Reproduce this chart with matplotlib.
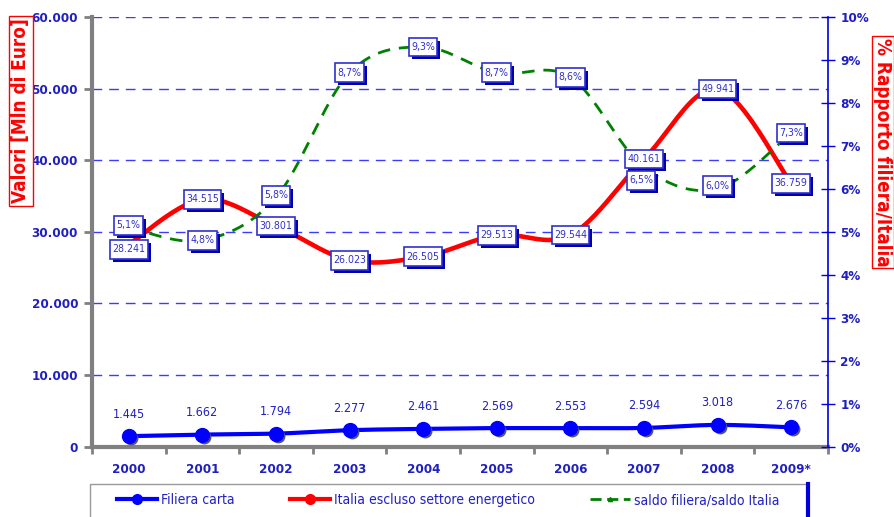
import os
import numpy as np
import matplotlib
matplotlib.use('Agg')
import matplotlib.pyplot as plt
from matplotlib import font_manager, transforms
from matplotlib.font_manager import FontProperties
from matplotlib.lines import Line2D
from matplotlib.patches import Rectangle
from matplotlib.path import Path

# ---------------- data ----------------
years = ['2000', '2001', '2002', '2003', '2004', '2005', '2006', '2007', '2008', '2009*']
filiera_carta = [1445, 1662, 1794, 2277, 2461, 2569, 2553, 2594, 3018, 2676]
italia_escl_energ = [28241, 34515, 30801, 26023, 26505, 29513, 29544, 40161, 49941, 36759]
saldo_rapporto = [5.1, 4.8, 5.8, 8.7, 9.3, 8.7, 8.6, 6.5, 6.0, 7.3]
left_ticks = [0, 10000, 20000, 30000, 40000, 50000, 60000]
right_ticks = [0, 1, 2, 3, 4, 5, 6, 7, 8, 9, 10]
series_names = ['Filiera carta', 'Italia escluso settore energetico', 'saldo filiera/saldo Italia']

# ---------------- fonts ----------------
files = [f.fname for f in font_manager.fontManager.ttflist]
files += font_manager.findSystemFonts()


def find(patterns):
    for p in patterns:
        for fn in files:
            if os.path.basename(fn).lower().startswith(p.lower()):
                return fn
    return None


reg_file = find(['LiberationSansNarrow-Regular', 'ArialNarrow.', 'arialn.', 'DejaVuSansCondensed.',
                 'RobotoCondensed-Regular', 'OpenSans_Condensed-Regular', 'OpenSansCondensed-Regular',
                 'NotoSans-Condensed.', 'NotoSansDisplay-Condensed.'])
bold_file = find(['LiberationSansNarrow-Bold.', 'ArialNarrow-Bold', 'arialnb.', 'DejaVuSansCondensed-Bold.',
                  'RobotoCondensed-Bold.', 'OpenSans_Condensed-Bold.', 'OpenSansCondensed-Bold.',
                  'NotoSans-CondensedBold.', 'NotoSansDisplay-CondensedBold.'])


def fp(size, bold=False):
    f = bold_file if bold else reg_file
    if f is not None:
        return FontProperties(fname=f, size=size)
    return FontProperties(family=['Liberation Sans', 'DejaVu Sans'], size=size * 0.85,
                          weight='bold' if bold else 'normal')


BLUE_TXT = '#2020c0'
GRAY = '#808080'


def it_num(v):
    return '0' if v == 0 else f'{v:,.0f}'.replace(',', '.')


def it_pct(v):
    return f'{v:.1f}'.replace('.', ',') + '%'


def smooth(xv, yv, n=24):
    xv = np.asarray(xv, float)
    yv = np.asarray(yv, float)
    P = np.column_stack([xv, yv])
    P = np.vstack([P[0], P, P[-1]])
    out = []
    t = np.linspace(0, 1, n, endpoint=False)[:, None]
    for i in range(1, len(P) - 2):
        p0, p1, p2, p3 = P[i - 1], P[i], P[i + 1], P[i + 2]
        seg = 0.5 * ((2 * p1) + (-p0 + p2) * t + (2 * p0 - 5 * p1 + 4 * p2 - p3) * t ** 2
                     + (-p0 + 3 * p1 - 3 * p2 + p3) * t ** 3)
        out.append(seg)
    out.append(P[-2][None, :])
    S = np.vstack(out)
    return S[:, 0], S[:, 1]


def label_box(x0, y0, width, height, mutation_size):
    px = 0.22 * mutation_size
    py = 0.42 * mutation_size
    x0, y0 = x0 - px, y0 - py
    x1, y1 = x0 + width + 2 * px, y0 + height + 2 * py
    return Path([(x0, y0), (x1, y0), (x1, y1), (x0, y1), (x0, y0)],
                [Path.MOVETO, Path.LINETO, Path.LINETO, Path.LINETO, Path.CLOSEPOLY])


fig = plt.figure(figsize=(8.95, 5.17), dpi=100)
ax = fig.add_axes([92 / 895, 1 - 446.5 / 517, 736 / 895, 429.5 / 517])
ax2 = ax.twinx()

x = np.arange(len(years))
ax.set_xlim(-0.5, len(years) - 0.5)
ax.set_ylim(0, 60000)
ax2.set_ylim(0, 10)

TICK_FP = fp(9.6, bold=True)

ax.set_yticks(left_ticks, labels=[it_num(v) for v in left_ticks], fontproperties=TICK_FP)
ax.yaxis.grid(True, color='#3b3bff', linestyle=(0, (7, 5)), linewidth=1)
ax.set_axisbelow(True)

for s in ['top', 'right']:
    ax.spines[s].set_visible(False)
ax.spines['left'].set_color(GRAY)
ax.spines['left'].set_linewidth(3)
ax.spines['bottom'].set_color(GRAY)
ax.spines['bottom'].set_linewidth(3)
for s in ['top', 'left', 'bottom']:
    ax2.spines[s].set_visible(False)
ax2.spines['right'].set_color('#0000dd')
ax2.spines['right'].set_linewidth(1.2)

ax.tick_params(axis='y', which='major', length=6, width=2, color=GRAY,
               labelcolor=BLUE_TXT, pad=4)
ax.set_xticks(x, labels=years, fontproperties=TICK_FP)
ax.set_xticks(np.arange(-0.5, len(years)), minor=True)
ax.tick_params(axis='x', which='major', length=0, labelcolor=BLUE_TXT, pad=12)
ax.tick_params(axis='x', which='minor', length=5, width=2, color=GRAY)

ax2.set_yticks(right_ticks, labels=[f'{v}%' for v in right_ticks], fontproperties=TICK_FP)
ax2.tick_params(axis='y', direction='inout', length=10, width=1, color='#0000dd',
                labelcolor=BLUE_TXT, pad=4)

# lines
xs, ys = smooth(x, italia_escl_energ)
ax.plot(xs, ys, color='#ff0000', lw=3.3, solid_capstyle='round', zorder=3)

xs, ys = smooth(x, filiera_carta)
ax.plot(xs, ys, color='#0000ff', lw=3, zorder=3)
sh = transforms.offset_copy(ax.transData, fig=fig, x=2, y=-2, units='dots')
ax.plot(x, filiera_carta, 'o', ms=10, color='#555577', mec='none', transform=sh, zorder=4)
ax.plot(x, filiera_carta, 'o', ms=10, color='#0000ff', mec='#0000ff', zorder=5)

xs, ys = smooth(x, saldo_rapporto)
ax2.plot(xs, ys, color='#008000', lw=2, dashes=(4.5, 3.2), zorder=3)

# data labels
LBL_FP = fp(7.6)
boxes = []


def boxed(xi, yi, text, trans, dx=0, dy=0):
    a = ax2.annotate(text, xy=(xi, yi), xycoords=trans, xytext=(dx, dy), textcoords='offset pixels',
                     ha='center', va='center', fontproperties=LBL_FP, color='#3030c8',
                     bbox=dict(boxstyle=label_box, fc='white', ec='#3030d0', lw=1.2),
                     zorder=9)
    boxes.append(a)


red_off = {0: (0, -5)}
green_off = {0: (0, 2), 2: (0, 2), 7: (-3, -13), 8: (0, 3)}
for i, v in enumerate(italia_escl_energ):
    dx, dy = red_off.get(i, (0, 0))
    boxed(x[i], v, it_num(v), ax.transData, dx, dy)
for i, v in enumerate(saldo_rapporto):
    dx, dy = green_off.get(i, (0, 0))
    boxed(x[i], v, it_pct(v), ax2.transData, dx, dy)
for i, v in enumerate(filiera_carta):
    ax.annotate(it_num(v), (x[i], v), xytext=(0, 22), textcoords='offset pixels',
                ha='center', va='center', fontproperties=fp(9), color=BLUE_TXT, zorder=6)

# axis titles
TITLE_FP = fp(13.6, bold=True)
fig.text(21 / 895, 1 - 111 / 517, 'Valori [Mln di Euro]', rotation=90, ha='center', va='center',
         color='#ff0000', fontproperties=TITLE_FP,
         bbox=dict(boxstyle='square,pad=0.12', fc='white', ec='#ff0000', lw=1))
fig.text(883 / 895, 1 - 152 / 517, '% Rapporto filiera/Italia', rotation=-90, ha='center', va='center',
         color='#ff0000', fontproperties=TITLE_FP,
         bbox=dict(boxstyle='square,pad=0.1', fc='white', ec='#ff0000', lw=1))

# legend box
fig.add_artist(Rectangle((90 / 895, -0.05), (808 - 90) / 895, 0.05 + 33 / 517,
                         transform=fig.transFigure, fc='white', ec='#999999', lw=1, zorder=0))
fig.add_artist(Line2D([808 / 895, 808 / 895], [-0.01, 33 / 517], transform=fig.transFigure,
                      color='#0000dd', lw=3))
handles = [
    Line2D([], [], color='#0000ff', lw=3, marker='o', ms=7),
    Line2D([], [], color='#ff0000', lw=3, marker='o', ms=7),
    Line2D([], [], color='#008000', lw=2, marker='^', ms=3, dashes=(4, 2)),
]
leg = fig.legend(handles, series_names, loc='center left', bbox_to_anchor=(117 / 895, 1 - 500 / 517),
                 ncol=3, frameon=False, prop=fp(10), handlelength=2.9, handletextpad=0.25,
                 columnspacing=4.0, borderpad=0, borderaxespad=0)
for t in leg.get_texts():
    t.set_color(BLUE_TXT)

# shadows under the data-label boxes
fig.canvas.draw()
renderer = fig.canvas.get_renderer()
inv = ax2.transAxes.inverted()
for a in boxes:
    bb = a.get_bbox_patch().get_window_extent(renderer)
    (x0, y0), (x1, y1) = inv.transform([(bb.x0 + 3, bb.y0 - 3), (bb.x1 + 3, bb.y1 - 3)])
    ax2.add_patch(Rectangle((x0, y0), x1 - x0, y1 - y0, transform=ax2.transAxes,
                            fc='#0000b0', ec='none', zorder=8, clip_on=False))

fig.savefig('out.png', dpi=100)
